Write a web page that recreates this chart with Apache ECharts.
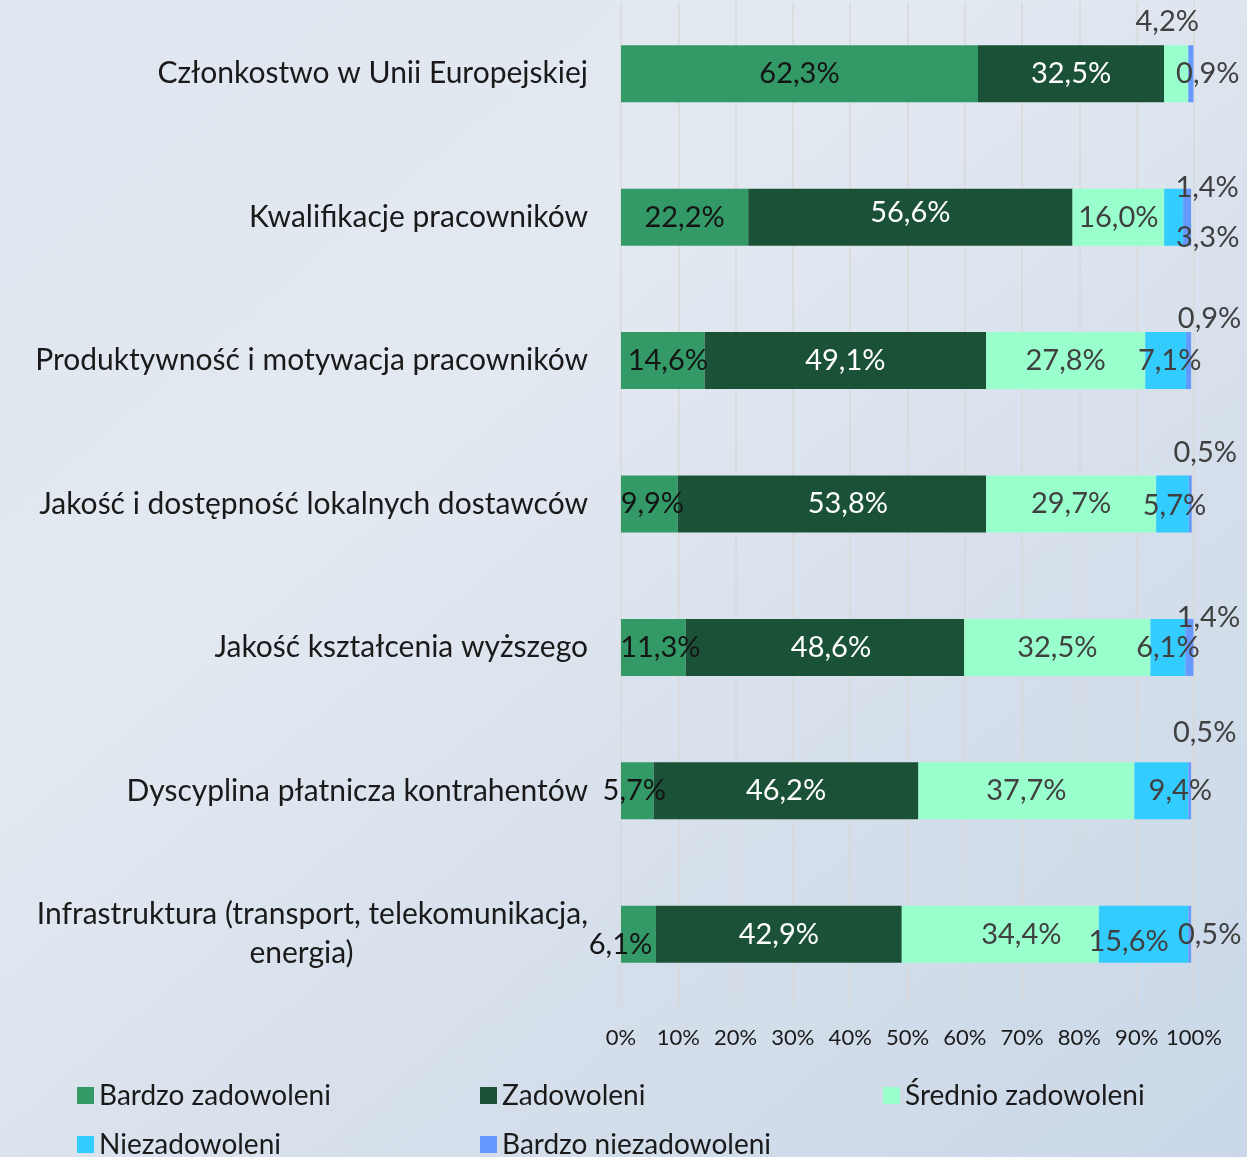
<!DOCTYPE html>
<html>
<head>
<meta charset="utf-8">
<script src="https://cdn.jsdelivr.net/npm/echarts@6/dist/echarts.min.js"></script>
<style>
  html, body { margin: 0; padding: 0; }
  body {
    width: 1247px; height: 1157px; overflow: hidden;
    background: linear-gradient(140deg, #dfe6ef 0%, #e3e9f1 35%, #d8e1ec 60%, #cfdbe9 85%, #c9d7e8 100%);
  }
  #chart { width: 1247px; height: 1157px; }
</style>
</head>
<body>
<div id="chart"></div>
<script>
// kategorie (od góry)
const categories = [
  'Członkostwo w Unii Europejskiej',
  'Kwalifikacje pracowników',
  'Produktywność i motywacja pracowników',
  'Jakość i dostępność lokalnych dostawców',
  'Jakość kształcenia wyższego',
  'Dyscyplina płatnicza kontrahentów',
  'Infrastruktura (transport, telekomunikacja,\nenergia)'
];
const seriesNames = ['Bardzo zadowoleni', 'Zadowoleni', 'Średnio zadowoleni', 'Niezadowoleni', 'Bardzo niezadowoleni'];
const bardzoZadowoleni = [62.3, 22.2, 14.6, 9.9, 11.3, 5.7, 6.1];
const zadowoleni = [32.5, 56.6, 49.1, 53.8, 48.6, 46.2, 42.9];
const srednioZadowoleni = [4.2, 16.0, 27.8, 29.7, 32.5, 37.7, 34.4];
const niezadowoleni = [null, 3.3, 7.1, 5.7, 6.1, 9.4, 15.6];
const bardzoNiezadowoleni = [0.9, 1.4, 0.9, 0.5, 1.4, 0.5, 0.5];
const xTickLabels = ['0%', '10%', '20%', '30%', '40%', '50%', '60%', '70%', '80%', '90%', '100%'];

const colors = ['#339966', '#1b5237', '#99ffcc', '#33ccff', '#6699ff'];
const labelColors = ['#141414', '#ffffff', '#404040', '#404040', '#404040'];

// przesunięcia etykiet [dx, dy] wzgledem srodka segmentu (seria -> wiersz)
const labelOffsets = {
  0: { 2: [5, 0], 3: [3, 0], 4: [7, 0], 5: [-3, 0], 6: [-18, 10] },
  1: { 1: [0, -5], 3: [16, 0], 4: [6, 0] },
  2: { 0: [-9, -52], 6: [21, 0] },
  3: { 1: [34, 20], 2: [4, 0], 3: [2, 2], 5: [19, 0], 6: [-15, 7] },
  4: { 0: [17, 0], 1: [20, -30], 2: [21, -42], 3: [15, -51], 4: [19, -30], 5: [15, -58], 6: [20, 0] }
};

const allValues = [bardzoZadowoleni, zadowoleni, srednioZadowoleni, niezadowoleni, bardzoNiezadowoleni];

function fmt(v) {
  return v.toFixed(1).replace('.', ',') + '%';
}

const series = allValues.map(function (vals, si) {
  return {
    name: seriesNames[si],
    type: 'bar',
    stack: 'total',
    barWidth: 57,
    itemStyle: { color: colors[si] },
    label: {
      show: true,
      position: 'inside',
      color: labelColors[si],
      fontSize: 29,
      fontFamily: 'Lato',
      formatter: function (p) { return fmt(p.value); }
    },
    data: vals.map(function (v, ri) {
      const off = labelOffsets[si] && labelOffsets[si][ri];
      if (v == null) return null;
      return off ? { value: v, label: { offset: off } } : v;
    })
  };
});

const chart = echarts.init(document.getElementById('chart'));
chart.setOption({
  animation: false,
  textStyle: { fontFamily: 'Lato' },
  grid: { left: 621, right: 53, top: 2, bottom: 151 },
  xAxis: {
    type: 'value',
    min: 0,
    max: 100,
    interval: 10,
    axisLine: { show: false },
    axisTick: { show: false },
    splitLine: { lineStyle: { color: '#d9d9d9', width: 1.5 } },
    axisLabel: {
      margin: 21,
      fontSize: 22,
      color: '#1a1a1a',
      formatter: function (v) { return xTickLabels[v / 10]; }
    }
  },
  yAxis: {
    type: 'category',
    inverse: true,
    data: categories,
    axisLine: { show: false },
    axisTick: { show: false },
    axisLabel: {
      margin: 33,
      fontSize: 30,
      color: '#1a1a1a',
      lineHeight: 39,
      formatter: function (v) {
        const parts = v.split('\n');
        if (parts.length === 1) return v;
        return '{a|' + parts[0] + '}\n{b|' + parts[1] + '}';
      },
      rich: {
        a: { fontSize: 30, color: '#1a1a1a', lineHeight: 39 },
        b: { fontSize: 30, color: '#1a1a1a', lineHeight: 39, width: 573, align: 'center' }
      }
    }
  },
  legend: {
    left: 72,
    top: 1066,
    width: 1230,
    itemGap: 0,
    itemWidth: 17,
    itemHeight: 17,
    icon: 'rect',
    data: seriesNames,
    textStyle: { fontSize: 28, color: '#1a1a1a', width: 381, lineHeight: 49 }
  },
  series: series
});
</script>
</body>
</html>
